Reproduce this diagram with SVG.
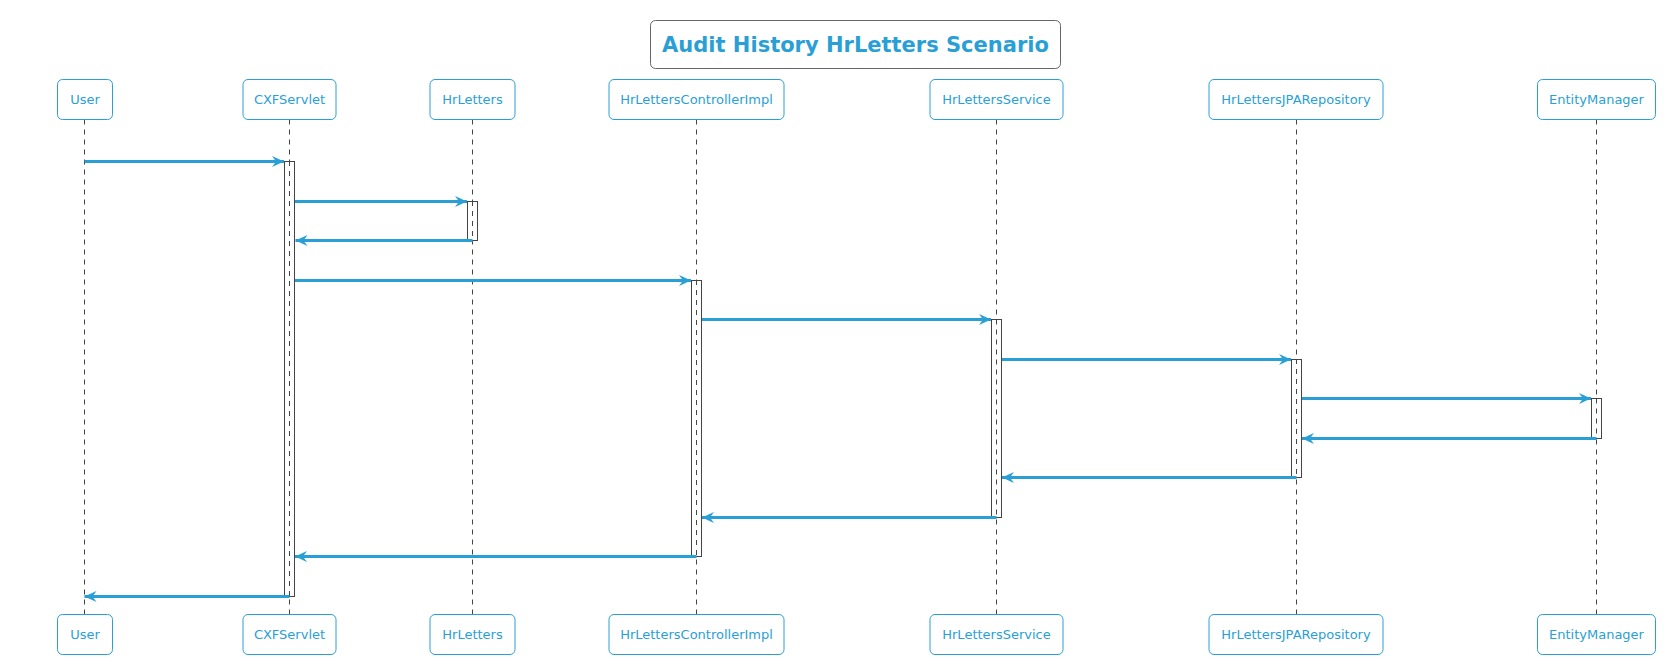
<svg xmlns="http://www.w3.org/2000/svg" width="1666" height="664" viewBox="0 0 1666 664">
<style>
.box{fill:#ffffff;stroke:#2a9fd6;stroke-width:1;}
.ptxt{font-family:"DejaVu Sans",sans-serif;font-size:13px;fill:#2a9fd6;text-anchor:middle;}
.life{stroke:#444444;stroke-width:1;stroke-dasharray:5,5;fill:none;}
.act{fill:#ffffff;stroke:#444444;stroke-width:1;}
.msg{stroke:#2a9fd6;stroke-width:3;fill:none;marker-end:url(#ah);}
.title{font-family:"DejaVu Sans",sans-serif;font-size:21px;font-weight:bold;fill:#2a9fd6;text-anchor:middle;}
</style>
<defs>
<marker id="ah" markerUnits="userSpaceOnUse" viewBox="0 0 12 11" refX="12" refY="5.5" markerWidth="12" markerHeight="11" orient="auto">
<path d="M0,0 L12,5.5 L0,11 L4,5.5 Z" fill="#2a9fd6"/>
</marker>
</defs>
<rect width="1666" height="664" fill="#ffffff"/>
<g id="title">
<rect x="650.5" y="20.5" width="410" height="48" rx="5" ry="5" fill="#ffffff" stroke="#666666" stroke-width="1"/>
<text class="title" x="855.5" y="52">Audit History HrLetters Scenario</text>
</g>
<g id="lifelines">
<line class="life" x1="84.5" y1="119.5" x2="84.5" y2="614.5"/>
<line class="life" x1="289.5" y1="119.5" x2="289.5" y2="614.5"/>
<line class="life" x1="472.5" y1="119.5" x2="472.5" y2="614.5"/>
<line class="life" x1="696.5" y1="119.5" x2="696.5" y2="614.5"/>
<line class="life" x1="996.5" y1="119.5" x2="996.5" y2="614.5"/>
<line class="life" x1="1296.5" y1="119.5" x2="1296.5" y2="614.5"/>
<line class="life" x1="1596.5" y1="119.5" x2="1596.5" y2="614.5"/>
</g>
<g id="activations">
<rect class="act" x="284.5" y="161.5" width="10" height="435"/>
<rect class="act" x="467.5" y="201.5" width="10" height="39"/>
<rect class="act" x="691.5" y="280.5" width="10" height="276"/>
<rect class="act" x="991.5" y="319.5" width="10" height="198"/>
<rect class="act" x="1291.5" y="359.5" width="10" height="118"/>
<rect class="act" x="1591.5" y="398.5" width="10" height="40"/>
</g>
<g id="lifelines-over">
<line class="life" x1="289.5" y1="161" x2="289.5" y2="596"/>
<line class="life" x1="472.5" y1="201" x2="472.5" y2="240"/>
<line class="life" x1="696.5" y1="280" x2="696.5" y2="556.5"/>
<line class="life" x1="996.5" y1="319.5" x2="996.5" y2="517"/>
<line class="life" x1="1296.5" y1="359" x2="1296.5" y2="477.5"/>
<line class="life" x1="1596.5" y1="398.5" x2="1596.5" y2="438"/>
</g>
<g id="connectors">
<line class="msg" x1="84.5" y1="161.5" x2="284" y2="161.5"/>
<line class="msg" x1="295" y1="201.5" x2="467" y2="201.5"/>
<line class="msg" x1="472.5" y1="240.5" x2="295.5" y2="240.5"/>
<line class="msg" x1="295" y1="280.5" x2="691" y2="280.5"/>
<line class="msg" x1="702" y1="319.5" x2="991" y2="319.5"/>
<line class="msg" x1="1002" y1="359.5" x2="1291" y2="359.5"/>
<line class="msg" x1="1302" y1="398.5" x2="1591" y2="398.5"/>
<line class="msg" x1="1596.5" y1="438.5" x2="1302" y2="438.5"/>
<line class="msg" x1="1296.5" y1="477.5" x2="1002" y2="477.5"/>
<line class="msg" x1="996.5" y1="517.5" x2="702" y2="517.5"/>
<line class="msg" x1="696.5" y1="556.5" x2="295" y2="556.5"/>
<line class="msg" x1="289.5" y1="596.5" x2="84.5" y2="596.5"/>
</g>
<g id="p-user">
<rect class="box" x="57.5" y="79.5" width="55" height="40" rx="5" ry="5"/>
<text class="ptxt" x="85" y="104">User</text>
<rect class="box" x="57.5" y="614.5" width="55" height="40" rx="5" ry="5"/>
<text class="ptxt" x="85" y="639">User</text>
</g>
<g id="p-cxfservlet">
<rect class="box" x="243" y="79.5" width="93" height="40" rx="5" ry="5"/>
<text class="ptxt" x="289.5" y="104">CXFServlet</text>
<rect class="box" x="243" y="614.5" width="93" height="40" rx="5" ry="5"/>
<text class="ptxt" x="289.5" y="639">CXFServlet</text>
</g>
<g id="p-hrletters">
<rect class="box" x="430" y="79.5" width="85" height="40" rx="5" ry="5"/>
<text class="ptxt" x="472.5" y="104">HrLetters</text>
<rect class="box" x="430" y="614.5" width="85" height="40" rx="5" ry="5"/>
<text class="ptxt" x="472.5" y="639">HrLetters</text>
</g>
<g id="p-controller">
<rect class="box" x="609" y="79.5" width="175" height="40" rx="5" ry="5"/>
<text class="ptxt" x="696.5" y="104">HrLettersControllerImpl</text>
<rect class="box" x="609" y="614.5" width="175" height="40" rx="5" ry="5"/>
<text class="ptxt" x="696.5" y="639">HrLettersControllerImpl</text>
</g>
<g id="p-service">
<rect class="box" x="930" y="79.5" width="133" height="40" rx="5" ry="5"/>
<text class="ptxt" x="996.5" y="104">HrLettersService</text>
<rect class="box" x="930" y="614.5" width="133" height="40" rx="5" ry="5"/>
<text class="ptxt" x="996.5" y="639">HrLettersService</text>
</g>
<g id="p-jparepo">
<rect class="box" x="1209" y="79.5" width="174" height="40" rx="5" ry="5"/>
<text class="ptxt" x="1296" y="104">HrLettersJPARepository</text>
<rect class="box" x="1209" y="614.5" width="174" height="40" rx="5" ry="5"/>
<text class="ptxt" x="1296" y="639">HrLettersJPARepository</text>
</g>
<g id="p-entitymanager">
<rect class="box" x="1537.5" y="79.5" width="118" height="40" rx="5" ry="5"/>
<text class="ptxt" x="1596.5" y="104">EntityManager</text>
<rect class="box" x="1537.5" y="614.5" width="118" height="40" rx="5" ry="5"/>
<text class="ptxt" x="1596.5" y="639">EntityManager</text>
</g>
</svg>
